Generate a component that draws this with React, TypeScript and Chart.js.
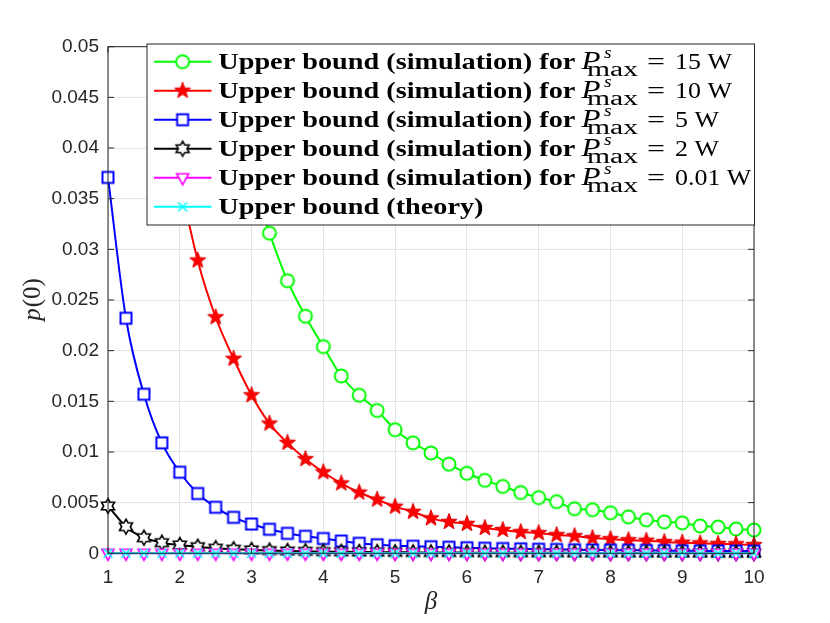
import { useEffect, useRef } from "react";
import { Chart, registerables } from "chart.js";

Chart.register(...registerables);

const betaValues = [
  1, 1.25, 1.5, 1.75, 2, 2.25, 2.5, 2.75, 3, 3.25, 3.5, 3.75, 4, 4.25, 4.5, 4.75, 5, 5.25, 5.5,
  5.75, 6, 6.25, 6.5, 6.75, 7, 7.25, 7.5, 7.75, 8, 8.25, 8.5, 8.75, 9, 9.25, 9.5, 9.75, 10,
];

// P_max = 15 W (first points sit above the axis / behind the legend)
const sim15W = [
  0.3, 0.22, 0.16, 0.12, 0.095, 0.078, 0.062, 0.047, 0.037, 0.0316, 0.0269, 0.0234, 0.0204,
  0.0175, 0.0156, 0.0141, 0.0122, 0.0109, 0.0099, 0.0088, 0.0079, 0.0072, 0.0066, 0.006, 0.0055,
  0.0051, 0.0044, 0.0043, 0.004, 0.0036, 0.0033, 0.0031, 0.003, 0.0027, 0.0026, 0.0024, 0.0023,
];
const sim10W = [
  0.12, 0.085, 0.062, 0.047, 0.037, 0.0289, 0.0233, 0.0192, 0.0156, 0.0128, 0.0109, 0.0093, 0.008,
  0.0069, 0.006, 0.0053, 0.0046, 0.0041, 0.00345, 0.0031, 0.0029, 0.0025, 0.0023, 0.0021, 0.002,
  0.0018, 0.0017, 0.0015, 0.0014, 0.0013, 0.00124, 0.00112, 0.00105, 0.00099, 0.00093, 0.0009,
  0.00082,
];
const sim5W = [
  0.0371, 0.0232, 0.0157, 0.0109, 0.008, 0.0059, 0.00454, 0.00355, 0.00289, 0.00237, 0.00197,
  0.00168, 0.00146, 0.00121, 0.00099, 0.00085, 0.00075, 0.0007, 0.00065, 0.0006, 0.00055, 0.0005,
  0.00047, 0.00044, 0.0004, 0.00038, 0.00035, 0.00033, 0.00031, 0.0003, 0.00028, 0.00027, 0.00025,
  0.00024, 0.00023, 0.00022, 0.00021,
];
const sim2W = [
  0.00467, 0.00263, 0.00154, 0.00105, 0.00082, 0.00065, 0.0005, 0.0004, 0.00033, 0.00027, 0.00023,
  0.0002, 0.00017, 0.00015, 0.00013, 0.00012, 0.0001, 0.00009, 0.00008, 0.00008, 0.00007, 0.00006,
  0.00006, 0.00005, 0.00005, 0.00005, 0.00004, 0.00004, 0.00004, 0.00003, 0.00003, 0.00003,
  0.00003, 0.00003, 0.00002, 0.00002, 0.00002,
];
const sim001W = [
  0.000002, 0.000002, 0.000002, 0.000002, 0.000002, 0.000002, 0.000002, 0.000002, 0.000002,
  0.000002, 0.000002, 0.000002, 0.000002, 0.000002, 0.000002, 0.000002, 0.000002, 0.000002,
  0.000002, 0.000002, 0.000002, 0.000002, 0.000002, 0.000002, 0.000002, 0.000002, 0.000002,
  0.000002, 0.000002, 0.000002, 0.000002, 0.000002, 0.000002, 0.000002, 0.000002, 0.000002,
  0.000002,
];
const theory = [
  0.000001, 0.000001, 0.000001, 0.000001, 0.000001, 0.000001, 0.000001, 0.000001, 0.000001,
  0.000001, 0.000001, 0.000001, 0.000001, 0.000001, 0.000001, 0.000001, 0.000001, 0.000001,
  0.000001, 0.000001, 0.000001, 0.000001, 0.000001, 0.000001, 0.000001, 0.000001, 0.000001,
  0.000001, 0.000001, 0.000001, 0.000001, 0.000001, 0.000001, 0.000001, 0.000001, 0.000001,
  0.000001,
];

const powerLabels = ["15", "10", "5", "2", "0.01"];
const xTicks = [1, 2, 3, 4, 5, 6, 7, 8, 9, 10];

// small canvases used as point markers (and reused in the legend)
function markerCanvas(draw: (ctx: CanvasRenderingContext2D) => void, size = 22) {
  const c = document.createElement("canvas");
  c.width = size;
  c.height = size;
  const ctx = c.getContext("2d")!;
  ctx.translate(size / 2, size / 2);
  draw(ctx);
  return c;
}

function starPath(ctx: CanvasRenderingContext2D, n: number, outer: number, inner: number) {
  ctx.beginPath();
  for (let i = 0; i < n * 2; i++) {
    const r = i % 2 ? inner : outer;
    const a = -Math.PI / 2 + (i * Math.PI) / n;
    ctx.lineTo(r * Math.cos(a), r * Math.sin(a));
  }
  ctx.closePath();
}

function makeMarkers() {
  return {
    circle: markerCanvas((ctx) => {
      ctx.beginPath();
      ctx.arc(0, 0, 6.5, 0, Math.PI * 2);
      ctx.fillStyle = "#fff";
      ctx.fill();
      ctx.strokeStyle = "#00ff00";
      ctx.lineWidth = 2;
      ctx.stroke();
    }),
    pentagram: markerCanvas((ctx) => {
      starPath(ctx, 5, 8.5, 3.5);
      ctx.fillStyle = "#ff0000";
      ctx.fill();
      ctx.strokeStyle = "#e00000";
      ctx.lineWidth = 1;
      ctx.stroke();
    }),
    square: markerCanvas((ctx) => {
      ctx.fillStyle = "#fff";
      ctx.fillRect(-5.5, -5.5, 11, 11);
      ctx.strokeStyle = "#0000ff";
      ctx.lineWidth = 2;
      ctx.strokeRect(-5.5, -5.5, 11, 11);
    }),
    hexagram: markerCanvas((ctx) => {
      starPath(ctx, 6, 7.5, 4.3);
      ctx.fillStyle = "#fff";
      ctx.fill();
      ctx.strokeStyle = "#000";
      ctx.lineWidth = 1.6;
      ctx.stroke();
    }),
    triangleDown: markerCanvas((ctx) => {
      ctx.beginPath();
      ctx.moveTo(-6, -4);
      ctx.lineTo(6, -4);
      ctx.lineTo(0, 7);
      ctx.closePath();
      ctx.fillStyle = "#fff";
      ctx.fill();
      ctx.strokeStyle = "#ff00ff";
      ctx.lineWidth = 1.6;
      ctx.stroke();
    }),
    cross: markerCanvas((ctx) => {
      ctx.beginPath();
      ctx.moveTo(-4.5, -4.5);
      ctx.lineTo(4.5, 4.5);
      ctx.moveTo(4.5, -4.5);
      ctx.lineTo(-4.5, 4.5);
      ctx.strokeStyle = "#00ffff";
      ctx.lineWidth = 1.6;
      ctx.stroke();
    }),
  };
}

const axisColor = "#262626";

// draw text stretched horizontally (mimics the wider TeX fonts)
function stretchText(ctx: CanvasRenderingContext2D, text: string, x: number, y: number, k: number) {
  ctx.save();
  ctx.translate(x, y);
  ctx.scale(k, 1);
  ctx.fillText(text, 0, 0);
  ctx.restore();
}

function fitText(ctx: CanvasRenderingContext2D, text: string, x: number, y: number, width: number) {
  stretchText(ctx, text, x, y, width / ctx.measureText(text).width);
}

const App = () => {
  const chartRef = useRef<HTMLCanvasElement | null>(null);

  useEffect(() => {
    if (!chartRef.current) return;
    const m = makeMarkers();

    const series = [
      { label: "15", data: sim15W, color: "#00ff00", marker: m.circle },
      { label: "10", data: sim10W, color: "#ff0000", marker: m.pentagram },
      { label: "5", data: sim5W, color: "#0000ff", marker: m.square },
      { label: "2", data: sim2W, color: "#000000", marker: m.hexagram },
      { label: "0.01", data: sim001W, color: "#ff00ff", marker: m.triangleDown },
      { label: "theory", data: theory, color: "#00ffff", marker: m.cross },
    ];

    const decorations = {
      id: "matlabDecor",
      afterDraw(chart: Chart) {
        const ctx = chart.ctx;
        const { left, right, top, bottom } = chart.chartArea;
        const xs = chart.scales.x;
        const ys = chart.scales.y;
        ctx.save();

        // axes box and inward ticks
        ctx.strokeStyle = axisColor;
        ctx.lineWidth = 1;
        ctx.strokeRect(left, top, right - left, bottom - top);
        ctx.beginPath();
        xTicks.forEach((v) => {
          const px = xs.getPixelForValue(v);
          ctx.moveTo(px, bottom);
          ctx.lineTo(px, bottom - 6);
          ctx.moveTo(px, top);
          ctx.lineTo(px, top + 6);
        });
        ys.ticks.forEach((t) => {
          const py = ys.getPixelForValue(t.value);
          ctx.moveTo(left, py);
          ctx.lineTo(left + 6, py);
          ctx.moveTo(right, py);
          ctx.lineTo(right - 6, py);
        });
        ctx.stroke();

        // axis titles
        ctx.fillStyle = axisColor;
        ctx.textBaseline = "middle";
        ctx.font = "italic 25px 'Liberation Serif'";
        ctx.textAlign = "center";
        ctx.fillText("\u03B2", (left + right) / 2, 602);

        ctx.save();
        ctx.translate(33, (top + bottom) / 2);
        ctx.rotate(-Math.PI / 2);
        ctx.textAlign = "left";
        ctx.font = "italic 25px 'Liberation Serif'";
        const wp = ctx.measureText("p").width;
        ctx.font = "25px 'Liberation Serif'";
        const wr = ctx.measureText("(0)").width;
        const x0 = -(wp + wr) / 2;
        ctx.font = "italic 25px 'Liberation Serif'";
        ctx.fillText("p", x0, 0);
        ctx.font = "25px 'Liberation Serif'";
        ctx.fillText("(0)", x0 + wp + 1, 0);
        ctx.restore();

        // legend (drawn over the data, opaque)
        const lx = 147;
        const ly = 44;
        const lw = right + 0.5 - lx;
        const lh = 181;
        ctx.fillStyle = "#fff";
        ctx.fillRect(lx, ly, lw, lh);
        ctx.strokeStyle = axisColor;
        ctx.lineWidth = 1;
        ctx.strokeRect(lx, ly, lw, lh);

        const prefix = "Upper bound (simulation) for";
        const fs = 24;
        ctx.font = `bold ${fs}px 'Liberation Serif'`;
        const k = 357 / ctx.measureText(prefix).width;

        ctx.textBaseline = "alphabetic";
        ctx.textAlign = "left";
        series.forEach((s, i) => {
          const cy = 61.7 + i * 29;
          const base = cy + 6.8;
          ctx.strokeStyle = s.color;
          ctx.lineWidth = 2;
          ctx.beginPath();
          ctx.moveTo(154, cy);
          ctx.lineTo(211.5, cy);
          ctx.stroke();
          const mk = s.marker;
          ctx.drawImage(mk, 182.6 - mk.width / 2, cy - mk.height / 2);

          ctx.fillStyle = "#000";
          ctx.font = `bold ${fs}px 'Liberation Serif'`;
          if (i === series.length - 1) {
            stretchText(ctx, "Upper bound (theory)", 218.3, base, k);
            return;
          }
          stretchText(ctx, prefix, 218.3, base, k);
          ctx.font = `italic ${fs + 1}px 'Liberation Serif'`;
          fitText(ctx, "P", 581.5, base, 19);
          ctx.font = `italic 17px 'Liberation Serif'`;
          stretchText(ctx, "s", 604, base - 11, 1.15);
          ctx.font = `20px 'Liberation Serif'`;
          fitText(ctx, "max", 587, base + 7, 51);
          ctx.font = `${fs}px 'Liberation Serif'`;
          fitText(ctx, "=", 647, base, 18);
          stretchText(ctx, `${powerLabels[i]} W`, 675, base, 1.08);
        });

        ctx.restore();
      },
    };

    const chart = new Chart(chartRef.current, {
      type: "line",
      data: {
        datasets: series.map((s, i) => ({
          label: s.label,
          data: betaValues.map((b, n) => ({ x: b, y: s.data[n] })),
          borderColor: s.color,
          backgroundColor: s.color,
          borderWidth: 2,
          pointStyle: s.marker,
          pointRadius: 6,
          cubicInterpolationMode: "monotone" as const,
          order: series.length - i,
          clip: { left: 12, top: 0, right: 12, bottom: 12 },
        })),
      },
      options: {
        animation: false,
        responsive: true,
        maintainAspectRatio: false,
        layout: { padding: { top: 46.7, right: 76, left: 0, bottom: 0 } },
        plugins: {
          legend: { display: false },
          tooltip: { enabled: false },
        },
        scales: {
          x: {
            type: "linear",
            min: 1,
            max: 10,
            ticks: {
              stepSize: 1,
              color: axisColor,
              padding: 13,
              font: { family: "'Liberation Sans'", size: 19 },
            },
            grid: { color: "#e3e3e3", drawTicks: false },
            border: { display: false },
            afterFit: (scale) => {
              scale.height = 69.7;
            },
          },
          y: {
            min: 0,
            max: 0.05,
            ticks: {
              stepSize: 0.005,
              color: axisColor,
              padding: 9,
              font: { family: "'Liberation Sans'", size: 19 },
              callback: (v) => String(parseFloat(Number(v).toFixed(3))),
            },
            grid: { color: "#e3e3e3", drawTicks: false },
            border: { display: false },
            afterFit: (scale) => {
              scale.width = 108;
            },
          },
        },
      },
      plugins: [decorations],
    });

    return () => {
      chart.destroy();
    };
  }, []);

  return (
    <div style={{ position: "fixed", left: 0, top: 0, width: 830, height: 623, background: "#fff" }}>
      <canvas ref={chartRef} />
    </div>
  );
};

export default App;
